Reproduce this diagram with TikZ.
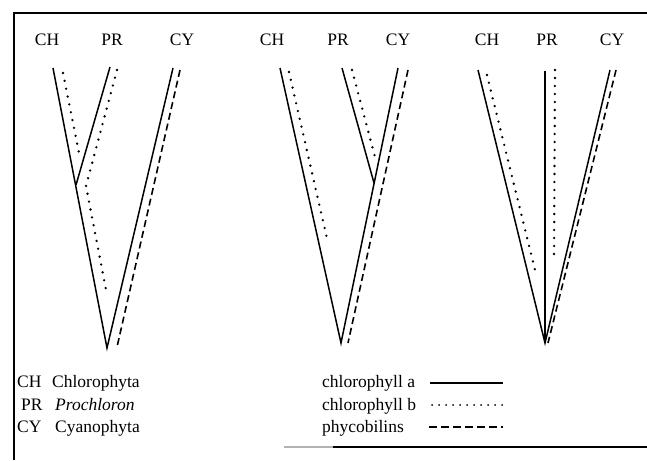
\documentclass[tikz,border=0pt]{standalone}
\usepackage{fontspec}
\setmainfont{Liberation Serif}
\tikzset{
  chlA/.style={line width=1.5pt},
  chlB/.style={line width=2.6pt,line cap=round,dash pattern=on 0pt off 8pt},
  phyco/.style={line width=1.6pt,dash pattern=on 7pt off 4pt},
  taxon/.style={inner sep=0pt},
  legtext/.style={inner sep=0pt,anchor=base west}
}
\begin{document}
\begin{tikzpicture}[x=1pt,y=-1pt,font=\fontsize{17.5}{20}\selectfont]
  \useasboundingbox (0,0) rectangle (647,460);
  % frame
  \draw[line width=1.2pt] (14,460) -- (14,13) -- (647,13);
  \draw[line width=1.2pt,gray!60] (284,447) -- (333,447);
  \draw[line width=1.2pt] (333,447) -- (647,447);

  % panel 1
  \node[taxon] (ch1) at (47,40) {CH};
  \node[taxon] (pr1) at (112,40) {PR};
  \node[taxon] (cy1) at (182,40) {CY};
  \coordinate (a1ch) at (53,68);
  \coordinate (a1pr) at (110,67);
  \coordinate (a1cy) at (173,68);
  \coordinate (a1br) at (76,185);
  \coordinate (a1rt) at (107,348);
  \draw[chlA] (a1ch) -- (a1rt) -- (a1cy);
  \draw[chlA] (a1pr) -- (a1br);
  \coordinate (b1ch) at (63,73);
  \coordinate (b1che) at (80,158);
  \coordinate (b1pr) at (117,70);
  \coordinate (b1br) at (86,186);
  \coordinate (b1e) at (107,295);
  \draw[chlB] (b1ch) -- (b1che);
  \draw[chlB] (b1pr) -- (b1br) -- (b1e);
  \coordinate (p1cy) at (180,70);
  \coordinate (p1e) at (117,347);
  \draw[phyco] (p1cy) -- (p1e);

  % panel 2
  \node[taxon] (ch2) at (272,40) {CH};
  \node[taxon] (pr2) at (338,40) {PR};
  \node[taxon] (cy2) at (398,40) {CY};
  \coordinate (a2ch) at (280,68);
  \coordinate (a2pr) at (342,68);
  \coordinate (a2cy) at (398,68);
  \coordinate (a2br) at (374,183);
  \coordinate (a2rt) at (341,343);
  \draw[chlA] (a2ch) -- (a2rt) -- (a2cy);
  \draw[chlA] (a2pr) -- (a2br);
  \coordinate (b2ch) at (289,72);
  \coordinate (b2che) at (328,243);
  \coordinate (b2pr) at (352,70);
  \coordinate (b2pre) at (375,157);
  \draw[chlB] (b2ch) -- (b2che);
  \draw[chlB] (b2pr) -- (b2pre);
  \coordinate (p2cy) at (408,70);
  \coordinate (p2e) at (348,343);
  \draw[phyco] (p2cy) -- (p2e);

  % panel 3
  \node[taxon] (ch3) at (487,40) {CH};
  \node[taxon] (pr3) at (547,40) {PR};
  \node[taxon] (cy3) at (612,40) {CY};
  \coordinate (a3ch) at (478,70);
  \coordinate (a3pr) at (545,71);
  \coordinate (a3cy) at (610,70);
  \coordinate (a3rt) at (545,343);
  \draw[chlA] (a3ch) -- (a3rt) -- (a3cy);
  \draw[chlA] (a3pr) -- (a3rt);
  \coordinate (b3ch) at (487,75);
  \coordinate (b3che) at (535,270);
  \coordinate (b3pr) at (555,70);
  \coordinate (b3pre) at (554,260);
  \draw[chlB] (b3ch) -- (b3che);
  \draw[chlB] (b3pr) -- (b3pre);
  \coordinate (p3cy) at (616,70);
  \coordinate (p3e) at (548,343);
  \draw[phyco] (p3cy) -- (p3e);

  % legend: taxa
  \node[legtext] (kCH) at (17,387) {CH};
  \node[legtext] (nCH) at (52,387) {Chlorophyta};
  \node[legtext] (kPR) at (21,410) {PR};
  \node[legtext] (nPR) at (55,410) {\itshape Prochloron};
  \node[legtext] (kCY) at (17,432) {CY};
  \node[legtext] (nCY) at (55,432) {Cyanophyta};

  % legend: pigments
  \node[legtext] (lA) at (322,387) {chlorophyll a};
  \node[legtext] (lB) at (322,410) {chlorophyll b};
  \node[legtext] (lP) at (322,432) {phycobilins};
  \coordinate (sA) at (430,383);
  \coordinate (eA) at (503,383);
  \coordinate (sB) at (432,405);
  \coordinate (eB) at (503,405);
  \coordinate (sP) at (429,427);
  \coordinate (eP) at (503,427);
  \draw[chlA] (sA) -- (eA);
  \draw[chlB,line width=2pt,dash pattern=on 0pt off 7pt] (sB) -- (eB);
  \draw[phyco,dash pattern=on 8pt off 4pt] (sP) -- (eP);
\end{tikzpicture}
\end{document}
